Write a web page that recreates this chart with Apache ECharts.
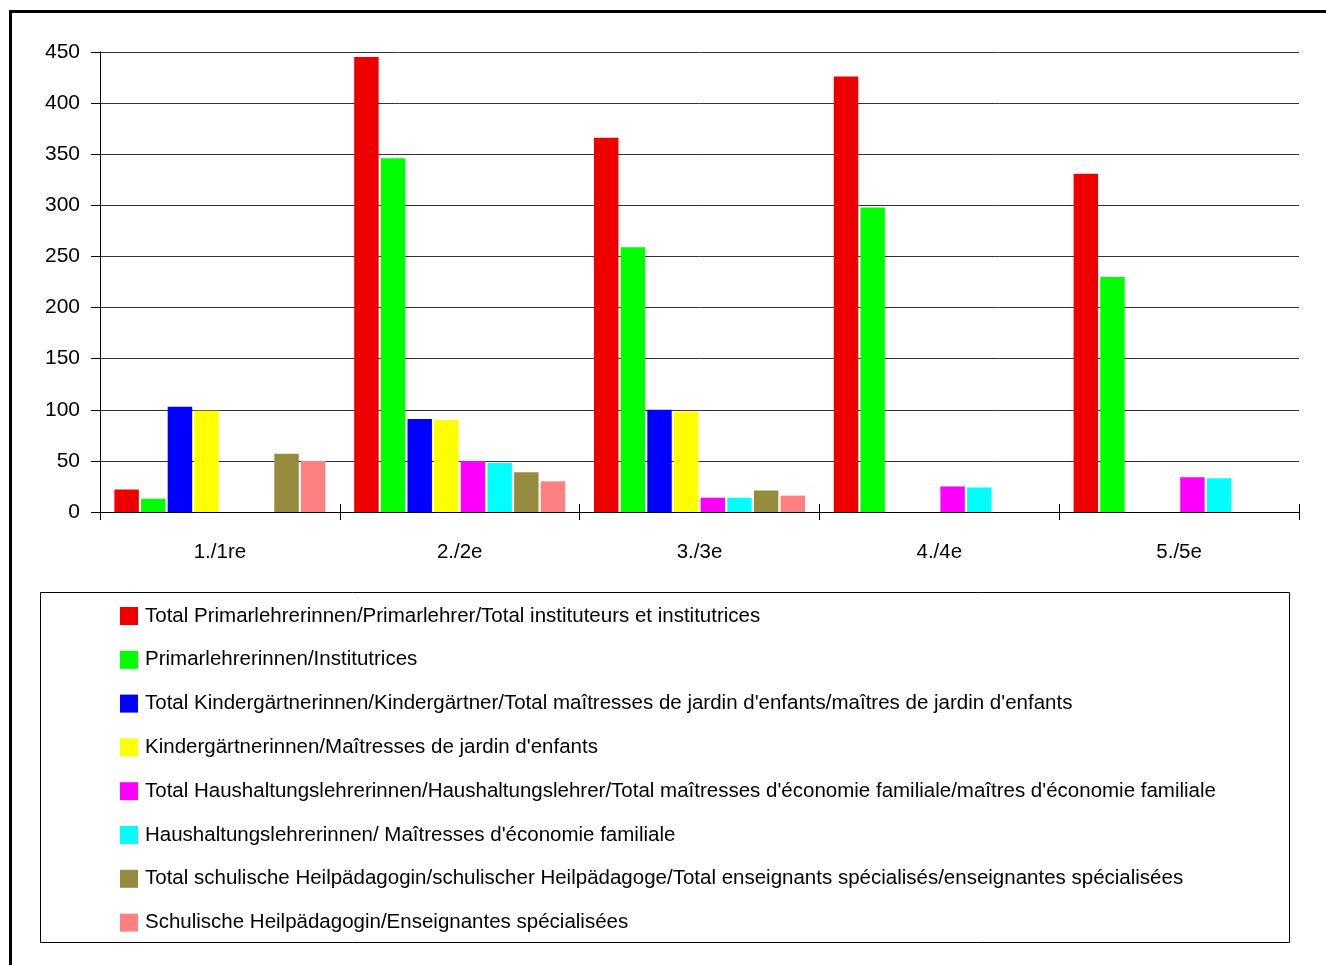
<!DOCTYPE html>
<html>
<head>
<meta charset="utf-8">
<script src="https://cdn.jsdelivr.net/npm/echarts@6/dist/echarts.min.js"></script>
<style>html,body{margin:0;padding:0;background:#fff;}#c{width:1326px;height:965px;}</style>
</head>
<body>
<div id="c"></div>
<script>
const categories = ['1./1re', '2./2e', '3./3e', '4./4e', '5./5e'];
const seriesNames = [
  'Total Primarlehrerinnen/Primarlehrer/Total instituteurs et institutrices',
  'Primarlehrerinnen/Institutrices',
  "Total Kindergärtnerinnen/Kindergärtner/Total maîtresses de jardin d'enfants/maîtres de jardin d'enfants",
  "Kindergärtnerinnen/Maîtresses de jardin d'enfants",
  "Total Haushaltungslehrerinnen/Haushaltungslehrer/Total maîtresses d'économie familiale/maîtres d'économie familiale",
  "Haushaltungslehrerinnen/ Maîtresses d'économie familiale",
  'Total schulische Heilpädagogin/schulischer Heilpädagoge/Total enseignants spécialisés/enseignantes spécialisées',
  'Schulische Heilpädagogin/Enseignantes spécialisées'
];
const totalPrimar = [22, 445, 366, 426, 331];
const primar = [13, 346, 259, 298, 230];
const totalKinder = [103, 91, 100, null, null];
const kinder = [99, 90, 98, null, null];
const totalHaus = [null, 50, 14, 25, 34];
const haus = [null, 48, 14, 24, 33];
const totalHeil = [57, 39, 21, null, null];
const heil = [50, 30, 16, null, null];
const yTicks = [0, 50, 100, 150, 200, 250, 300, 350, 400, 450];

const seriesData = [totalPrimar, primar, totalKinder, kinder, totalHaus, haus, totalHeil, heil];
const colors = ['#ee0000', '#00ff00', '#0000ff', '#ffff00', '#ff00ff', '#00ffff', '#968c40', '#ff8080'];
const FONT = 'Liberation Sans, Arial, sans-serif';

const chart = echarts.init(document.getElementById('c'), null, {renderer: 'canvas'});
chart.setOption({
  animation: false,
  color: colors,
  textStyle: {fontFamily: FONT, color: '#000'},
  grid: {left: 100, right: 27, top: 52, bottom: 453, containLabel: false},
  xAxis: [{
    type: 'category',
    data: categories,
    axisLine: {show: true, lineStyle: {color: '#000', width: 1}},
    axisTick: {show: true, length: 8, lineStyle: {color: '#000'}},
    axisLabel: {fontSize: 20.5, color: '#000', margin: 30, fontFamily: FONT},
    splitLine: {show: false}
  }, {
    type: 'category',
    data: categories,
    position: 'bottom',
    axisLine: {show: false},
    axisTick: {show: true, inside: true, length: 8, lineStyle: {color: '#000'}},
    axisLabel: {show: false},
    splitLine: {show: false}
  }],
  yAxis: {
    type: 'value',
    min: 0, max: 450, interval: 50,
    axisLine: {show: true, lineStyle: {color: '#000', width: 1}},
    axisTick: {show: true, length: 9, lineStyle: {color: '#000'}},
    axisLabel: {fontSize: 21, color: '#000', margin: 20, fontFamily: FONT,
      formatter: v => yTicks.includes(v) ? String(v) : ''},
    splitLine: {show: true, lineStyle: {color: '#333', width: 1}}
  },
  legend: {
    orient: 'vertical',
    left: 120, top: 605,
    height: 360,
    padding: 0,
    itemWidth: 18, itemHeight: 18,
    itemGap: 21.8,
    icon: 'rect',
    textStyle: {fontSize: 20.5, color: '#000', fontFamily: FONT, lineHeight: 22, padding: [0, 0, 0, 2]},
    data: seriesNames
  },
  graphic: [
    {type: 'rect', shape: {x: 10.5, y: 11.5, width: 1400, height: 1000},
      style: {fill: 'none', stroke: '#000', lineWidth: 3}, z: -1, silent: true},
    {type: 'rect', shape: {x: 40.5, y: 592.5, width: 1249, height: 350},
      style: {fill: 'none', stroke: '#000', lineWidth: 1}, z: -1, silent: true}
  ],
  series: seriesData.map((d, i) => ({
    name: seriesNames[i],
    type: 'bar',
    data: d,
    barGap: '9%',
    barCategoryGap: '12%',
    itemStyle: {color: colors[i]}
  }))
});
</script>
</body>
</html>
